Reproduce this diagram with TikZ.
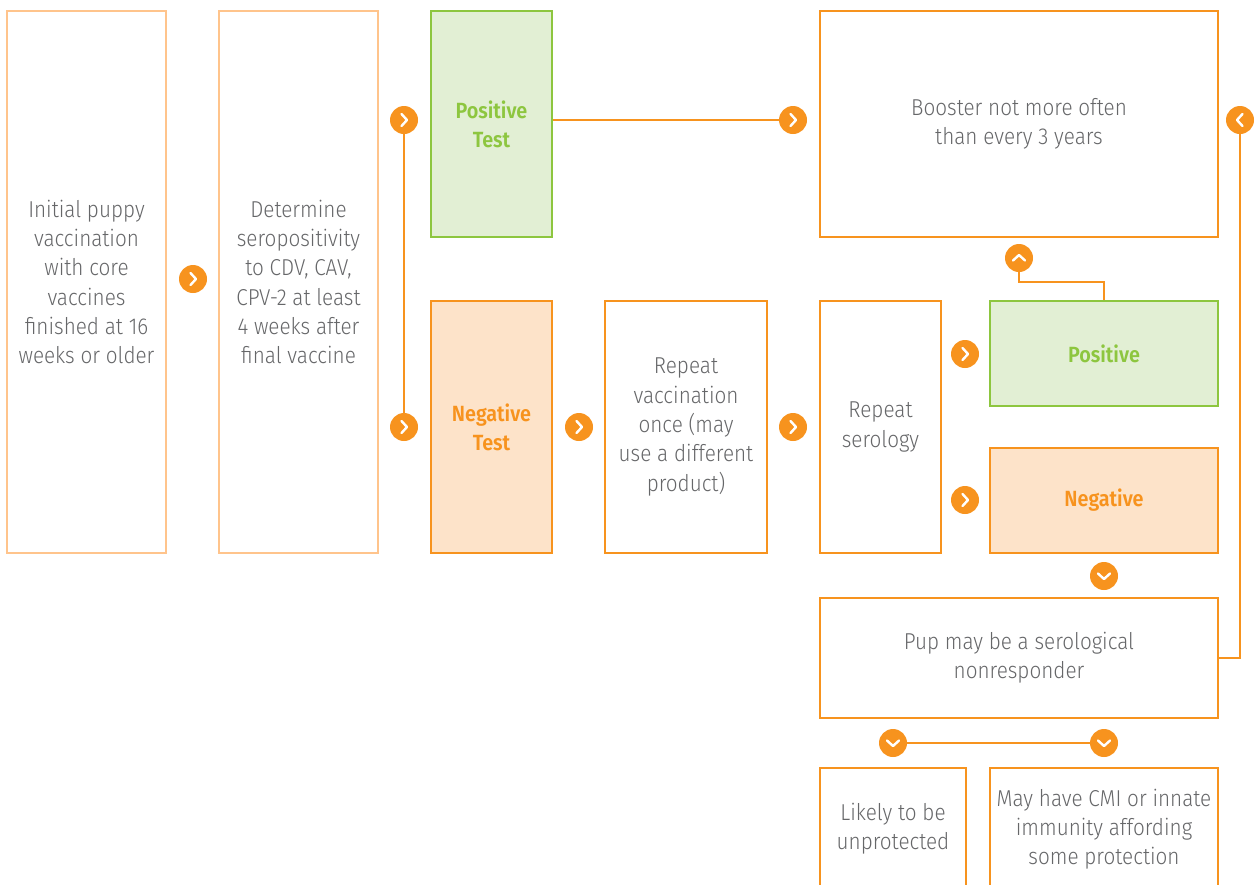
\documentclass[tikz,border=0pt]{standalone}
\usepackage{fontspec}
\setmainfont{Fira Sans}[UprightFont=* Light, BoldFont=* SemiBold, FakeStretch=0.9]
\usetikzlibrary{backgrounds}
\definecolor{org}{HTML}{F7931E}
\definecolor{lorg}{HTML}{FFC48C}
\definecolor{orgfill}{HTML}{FDE3C9}
\definecolor{grn}{HTML}{8DC63F}
\definecolor{grnfill}{HTML}{E2EFD4}
\definecolor{txt}{HTML}{666769}
\tikzset{
  base/.style={rectangle, line width=2.6pt, inner sep=0pt, align=center, text=txt,
    font=\fontsize{23}{29.3}\selectfont},
  pale/.style={base, draw=lorg, fill=white},
  obox/.style={base, draw=org, fill=white},
  nbox/.style={base, draw=org, fill=orgfill, text=org, font=\fontsize{22}{29.3}\selectfont\bfseries},
  pbox/.style={base, draw=grn, fill=grnfill, text=grn, font=\fontsize{22}{29.3}\selectfont\bfseries},
  conn/.style={draw=org, line width=1.8pt},
  dot/.style={circle, fill=org, minimum size=28pt, inner sep=0pt},
  chw/.style={white, line width=2.4pt, line cap=round, line join=round},
  chevR/.style={dot, path picture={\draw[chw] ([xshift=-2.5pt,yshift=6pt]path picture bounding box.center) -- ([xshift=3pt]path picture bounding box.center) -- ([xshift=-2.5pt,yshift=-6pt]path picture bounding box.center);}},
  chevL/.style={dot, path picture={\draw[chw] ([xshift=2.5pt,yshift=6pt]path picture bounding box.center) -- ([xshift=-3pt]path picture bounding box.center) -- ([xshift=2.5pt,yshift=-6pt]path picture bounding box.center);}},
  chevU/.style={dot, path picture={\draw[chw] ([xshift=-6pt,yshift=-2.5pt]path picture bounding box.center) -- ([yshift=3pt]path picture bounding box.center) -- ([xshift=6pt,yshift=-2.5pt]path picture bounding box.center);}},
  chevD/.style={dot, path picture={\draw[chw] ([xshift=-6pt,yshift=2.5pt]path picture bounding box.center) -- ([yshift=-3pt]path picture bounding box.center) -- ([xshift=6pt,yshift=2.5pt]path picture bounding box.center);}},
}
\begin{document}
\begin{tikzpicture}[x=1pt,y=-1pt]
\useasboundingbox (0,0) rectangle (1258,884);
\clip (0,0) rectangle (1258,884);
% boxes
\node[pale, minimum width=159, minimum height=542] (b1) at (86.5,282) {Initial puppy\\vaccination\\with core\\vaccines\\finished at 16\\weeks or older};
\node[pale, minimum width=159, minimum height=542] (b2) at (298.5,282) {Determine\\seropositivity\\to CDV, CAV,\\CPV-2 at least\\4 weeks after\\final vaccine};
\node[pbox, minimum width=121, minimum height=226] (pt) at (491.5,124) {Positive\\Test};
\node[nbox, minimum width=121, minimum height=252] (nt) at (491.5,427) {Negative\\Test};
\node[obox, minimum width=398, minimum height=226] (boost) at (1019,124) {Booster not more often\\than every 3 years};
\node[obox, minimum width=162, minimum height=252] (rv) at (686,427) {Repeat\\vaccination\\once (may\\use a different\\product)};
\node[obox, minimum width=121, minimum height=252] (rs) at (880.5,427) {Repeat\\serology};
\node[pbox, minimum width=228, minimum height=105] (pos) at (1104,353.5) {Positive};
\node[nbox, minimum width=228, minimum height=105] (neg) at (1104,500.5) {Negative};
\node[obox, minimum width=398, minimum height=120] (pup) at (1019,658) {Pup may be a serological\\nonresponder};
\node[obox, minimum width=146, minimum height=122] (lik) at (893,829) {Likely to be\\unprotected};
\node[obox, minimum width=228, minimum height=122] (may) at (1104,829) {May have CMI or innate\\immunity affording\\some protection};
% chevron dots
\node[chevR] (c0) at (193,279) {};
\node[chevR] (c1) at (404,120) {};
\node[chevR] (c2) at (404,427) {};
\node[chevR] (c3) at (793,120) {};
\node[chevR] (c4) at (579,427) {};
\node[chevR] (c5) at (793,427) {};
\node[chevR] (c6) at (965,354) {};
\node[chevR] (c7) at (965,500) {};
\node[chevU] (cu) at (1019,258) {};
\node[chevD] (cd) at (1104,576) {};
\node[chevL] (cl) at (1240,120) {};
\node[chevD] (cd1) at (893,743) {};
\node[chevD] (cd2) at (1104,743) {};
% connectors
\draw[conn] (c1.south) -- (c2.north);
\draw[conn] (pt.east |- c3) -- (c3.west);
\draw[conn] (cu.south) -- ++(0,10) -| (pos.north);
\draw[conn] (pup.east) -| (cl.south);
\draw[conn] (cd1.east) -- (cd2.west);
\end{tikzpicture}
\end{document}
